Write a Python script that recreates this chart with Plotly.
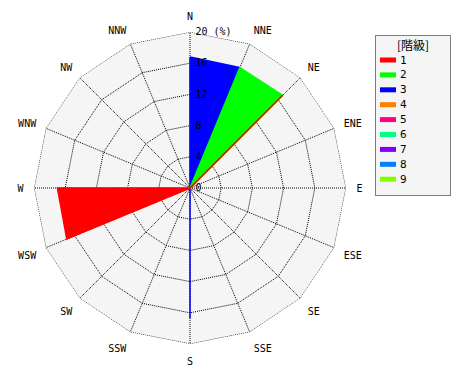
import plotly.graph_objects as go

directions = ["N", "NNE", "NE", "ENE", "E", "ESE", "SE", "SSE",
              "S", "SSW", "SW", "WSW", "W", "WNW", "NW", "NNW"]

# frequency (%) per direction for each class
class1 = [0, 0, 16.8, 0, 0, 0, 0, 0, 0, 0, 0, 17.1, 17.0, 0, 0, 0]
class2 = [0, 16.7, 16.8, 0, 0, 0, 0, 0, 0, 0, 0, 0, 0, 0, 0, 0]
class3 = [16.8, 16.7, 0, 0, 0, 0, 0, 0, 16.7, 0, 0, 0, 0, 0, 0, 0]

class_names = ["1", "2", "3", "4", "5", "6", "7", "8", "9"]
class_colors = ["#ff0000", "#00ff00", "#0000ff", "#ff8000", "#ff0080",
                "#00ff80", "#8000ff", "#0080ff", "#80ff00"]
series = {"1": class1, "2": class2, "3": class3}

r_tickvals = [0, 4, 8, 12, 16, 20]
r_ticktext = ["0", "4", "8", "12", "16", "20 (%)"]
legend_title = "[階級]"

FONT = "DejaVu Sans Mono"
W, H = 470, 380
RMAX = r_tickvals[-1]
R = 156
CX, CY = 190, 188

fig = go.Figure()
for name in reversed(list(series.keys())):
    vals = series[name]
    col = class_colors[class_names.index(name)]
    fig.add_trace(go.Scatterpolar(
        r=vals + [vals[0]], theta=directions + [directions[0]],
        mode="lines", fill="toself", fillcolor=col,
        line=dict(color=col, width=1.5), name=name, hoverinfo="skip"))

# dotted outer frame of the polar area (outermost radial grid ring)
fig.add_trace(go.Scatterpolar(
    r=[RMAX] * (len(directions) + 1), theta=directions + [directions[0]],
    mode="lines", line=dict(color="black", width=1, dash="1px,1px"),
    hoverinfo="skip", name="frame"))

# manual legend
def px(x):
    return x / W

def py(y):
    return 1 - y / H

shapes = [dict(type="rect", xref="paper", yref="paper",
               x0=px(375.5), x1=px(450.5), y0=py(35.5), y1=py(195.5),
               fillcolor="#f5f5f5", line=dict(color="black", width=1, dash="1px,1px"),
               layer="below")]
annotations = [dict(text=legend_title, xref="paper", yref="paper",
                    x=px(413), y=py(44), xanchor="center", yanchor="middle",
                    showarrow=False, font=dict(family="Noto Sans CJK JP", size=12, color="black"))]
for i, (nm, col) in enumerate(zip(class_names, class_colors)):
    yy = 60 + 14.9 * i
    shapes.append(dict(type="line", xref="paper", yref="paper",
                       x0=px(380), x1=px(396), y0=py(yy), y1=py(yy),
                       line=dict(color=col, width=5)))
    annotations.append(dict(text=nm, xref="paper", yref="paper",
                            x=px(398), y=py(yy), xanchor="left", yanchor="middle",
                            showarrow=False, font=dict(family=FONT, size=11, color="black")))

fig.update_layout(
    width=W, height=H, margin=dict(l=0, r=0, t=0, b=0),
    paper_bgcolor="white", showlegend=False,
    shapes=shapes, annotations=annotations,
    polar=dict(
        domain=dict(x=[(CX - R) / W, (CX + R) / W], y=[1 - (CY + R) / H, 1 - (CY - R) / H]),
        bgcolor="#f5f5f5", gridshape="linear",
        angularaxis=dict(
            rotation=90, direction="clockwise", type="category",
            categoryorder="array", categoryarray=directions,
            showgrid=True, gridcolor="black", gridwidth=1, griddash="1px,1px",
            showline=False, ticks="outside", ticklen=8, tickcolor="rgba(0,0,0,0)",
            layer="above traces",
            tickfont=dict(family=FONT, size=10, color="black")),
        radialaxis=dict(
            range=[0, RMAX], tickvals=r_tickvals, ticktext=r_ticktext,
            angle=90, tickangle=90, showline=False,
            ticks="outside", ticklen=3, tickcolor="rgba(0,0,0,0)",
            showgrid=True, gridcolor="black", gridwidth=1, griddash="1px,1px",
            layer="above traces",
            tickfont=dict(family=FONT, size=10, color="black")),
    ),
)

fig.write_html("out.html")
